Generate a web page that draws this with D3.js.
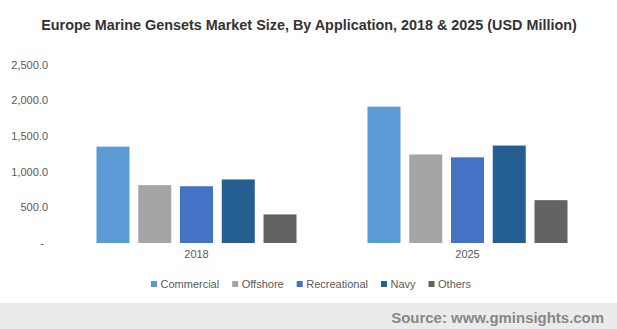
<!DOCTYPE html>
<html>
<head>
<meta charset="utf-8">
<script src="https://cdn.jsdelivr.net/npm/d3@7"></script>
<style>
  body { margin: 0; background: #fff; }
  svg { display: block; font-family: "Liberation Sans", Arial, sans-serif; }
</style>
</head>
<body>
<div id="chart"></div>
<script>
// data
var years = ["2018", "2025"]
var categories = ["Commercial", "Offshore", "Recreational", "Navy", "Others"]
var commercial = [1350, 1910]
var offshore = [810, 1240]
var recreational = [795, 1200]
var navy = [890, 1365]
var others = [400, 600]
var yTicks = [0, 500, 1000, 1500, 2000, 2500]
var colors = ["#5b9bd5", "#a5a5a5", "#4472c4", "#255e91", "#636363"]

var series = [commercial, offshore, recreational, navy, others]

var width = 617, height = 329
var margin = { top: 64, right: 14, bottom: 86, left: 61 }

var svg = d3.select("#chart")
  .append("svg")
  .attr("width", width)
  .attr("height", height)

// shrink/grow a text to a given width
function fitWidth(sel, w) {
  var fs = +sel.attr("font-size")
  var len = sel.node().getComputedTextLength()
  sel.attr("font-size", (fs * w / len).toFixed(2))
}

// title
var title = svg.append("text")
  .attr("x", 309)
  .attr("y", 30)
  .attr("text-anchor", "middle")
  .attr("font-size", 13)
  .attr("font-weight", "bold")
  .attr("fill", "#333")
  .text("Europe Marine Gensets Market Size, By Application, 2018 & 2025 (USD Million)")
fitWidth(title, 536)

var x0 = d3.scaleBand()
  .domain(years)
  .range([margin.left, width - margin.right])

var x1 = d3.scaleBand()
  .domain(categories)
  .range([0, x0.bandwidth()])
  .paddingInner(0.21)
  .paddingOuter(0.85)

var y = d3.scaleLinear()
  .domain([0, 2500])
  .range([243, 64.5])

// y axis, no line, no ticks
var yAxis = svg.append("g")
  .attr("transform", "translate(48,0)")
  .call(d3.axisLeft(y).tickValues(yTicks).tickSize(0).tickPadding(0)
    .tickFormat(function (d) { return d === 0 ? "-" : d3.format(",.1f")(d) }))
yAxis.select(".domain").remove()
yAxis.selectAll("text")
  .attr("font-family", "Liberation Sans, Arial, sans-serif")
  .attr("font-size", 11)
  .attr("fill", "#595959")
  .attr("dx", function (d) { return d === 0 ? -4 : 0 })

// bars
var groups = svg.selectAll("g.year")
  .data(years)
  .enter()
  .append("g")
  .attr("class", "year")
  .attr("transform", function (d) { return "translate(" + x0(d) + ",0)" })

groups.selectAll("rect")
  .data(function (yr, i) {
    return categories.map(function (c, j) { return { cat: c, value: series[j][i], color: colors[j] } })
  })
  .enter()
  .append("rect")
  .attr("x", function (d) { return x1(d.cat) })
  .attr("y", function (d) { return y(d.value) })
  .attr("width", x1.bandwidth())
  .attr("height", function (d) { return y(0) - y(d.value) })
  .attr("fill", function (d) { return d.color })

// x axis labels
var xAxis = svg.append("g")
  .attr("transform", "translate(0,243)")
  .call(d3.axisBottom(x0).tickSize(0).tickPadding(7))
xAxis.select(".domain").remove()
xAxis.selectAll("text")
  .attr("font-family", "Liberation Sans, Arial, sans-serif")
  .attr("font-size", 11)
  .attr("fill", "#595959")

// legend
var legend = svg.append("g").attr("transform", "translate(0,284)")
var lx = 151
categories.forEach(function (c, i) {
  var item = legend.append("g").attr("transform", "translate(" + lx + ",0)")
  item.append("rect")
    .attr("x", 0).attr("y", -3)
    .attr("width", 6).attr("height", 6)
    .attr("fill", colors[i])
  var t = item.append("text")
    .attr("x", 9.5)
    .attr("dy", "0.35em")
    .attr("font-size", 11)
    .attr("fill", "#595959")
    .text(c)
  lx += 9.5 + t.node().getComputedTextLength() + 13
})

// footer band
svg.append("rect")
  .attr("x", 0).attr("y", 303)
  .attr("width", width).attr("height", height - 303)
  .attr("fill", "#ebebeb")
var source = svg.append("text")
  .attr("x", 604)
  .attr("y", 323)
  .attr("text-anchor", "end")
  .attr("font-size", 13)
  .attr("font-weight", "bold")
  .attr("fill", "#878787")
  .text("Source: www.gminsights.com")
fitWidth(source, 213)
</script>
</body>
</html>
